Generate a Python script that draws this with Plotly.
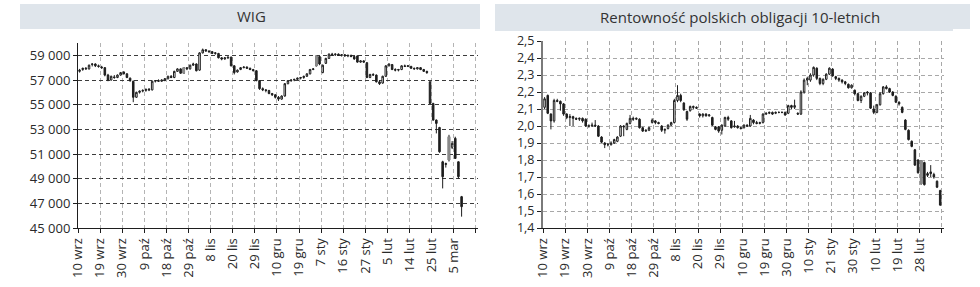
import plotly.graph_objects as go

# ---------------- DATA ----------------
wig_labels = ["10 wrz", "19 wrz", "30 wrz", "9 paź", "18 paź", "29 paź", "8 lis", "20 lis",
              "29 lis", "10 gru", "19 gru", "7 sty", "16 sty", "27 sty", "5 lut", "14 lut",
              "25 lut", "5 mar", ""]
bond_labels = ["10 wrz", "19 wrz", "30 wrz", "9 paź", "18 paź", "29 paź", "8 lis", "20 lis",
               "29 lis", "10 gru", "19 gru", "30 gru", "10 sty", "21 sty", "30 sty", "10 lut",
               "19 lut", "28 lut", ""]
label_step = 7  # trading days between labels

wig_open = [57700, 57850, 57950, 57900, 58250, 58300, 58150, 58050, 58000, 57400,
            57000, 57250, 57200, 57400, 57650, 57500, 57150, 56900, 55600, 56000,
            56100, 56150, 56250, 56200, 56900, 56950, 56900, 57000, 57100, 57300,
            57200, 57700, 57900, 57550, 58000, 57900, 58200, 58300, 57800, 59200,
            59450, 59350, 59300, 59150, 59150, 58800, 58700, 58800, 58850, 58150,
            57650, 57850, 58000, 58050, 57950, 57850, 57750, 56950, 56300, 56200,
            56150, 55900, 55800, 55600, 55450, 55700, 56700, 56950, 57000, 57050,
            57150, 57200, 57300, 57500, 57850, 58150, 58900, 57600, 58350, 58750,
            59100, 59050, 59100, 59000, 59050, 58950, 59000, 58900, 58950, 58450,
            58550, 58400, 57200, 57450, 57400, 56850, 56750, 57300, 58150, 58250,
            57850, 57800, 57850, 58150, 58100, 58100, 57950, 57900, 58000, 57850,
            57700, 56850, 55100, 53750, 53150, 50370, 50150, 50510, 51540, 52270,
            50370, 47540]
wig_high = [57900, 58000, 58050, 58250, 58350, 58350, 58250, 58150, 58050, 57500,
            57350, 57400, 57450, 57650, 57700, 57550, 57200, 56950, 56050, 56150,
            56250, 56300, 56350, 56950, 57000, 57050, 57050, 57150, 57350, 57400,
            57750, 57950, 57950, 58050, 58050, 58250, 58400, 58350, 59250, 59550,
            59500, 59400, 59350, 59250, 59200, 58850, 58850, 58900, 58900, 58200,
            57850, 58050, 58100, 58100, 58000, 57900, 57800, 57000, 56400, 56250,
            56200, 55950, 55850, 55700, 55750, 56750, 57000, 57050, 57100, 57200,
            57250, 57350, 57550, 57900, 57950, 59000, 58950, 58250, 58800, 59150,
            59200, 59150, 59150, 59100, 59100, 59050, 59050, 58950, 59000, 58600,
            58600, 58450, 57500, 57550, 57450, 57000, 57350, 58200, 58350, 58300,
            57950, 57900, 58200, 58250, 58200, 58150, 58000, 58050, 58050, 57900,
            57750, 56900, 55150, 53800, 53200, 50450, 50300, 52550, 52050, 52400,
            50400, 47600]
wig_low = [57600, 57750, 57850, 57850, 58100, 58050, 58000, 57900, 57300, 56900,
           56950, 57100, 57150, 57350, 57450, 57150, 56850, 55200, 55550, 55900,
           56000, 56050, 56100, 56150, 56800, 56850, 56850, 56900, 57050, 57150,
           57150, 57650, 57500, 57500, 57800, 57850, 58150, 57700, 57750, 59150,
           59300, 59200, 59100, 59050, 58750, 58600, 58650, 58700, 58100, 57450,
           57600, 57800, 57950, 57900, 57800, 57700, 56900, 56200, 56100, 56000,
           55850, 55700, 55500, 55300, 55400, 55650, 56650, 56850, 56900, 57000,
           57050, 57100, 57250, 57450, 57800, 58100, 58200, 57550, 58300, 58700,
           58950, 58950, 58950, 58900, 58900, 58850, 58850, 58650, 58400, 58400,
           58400, 57150, 57150, 57350, 56800, 56600, 56700, 57250, 58100, 57800,
           57700, 57700, 57800, 58050, 58050, 57900, 57850, 57850, 57800, 57650,
           57500, 55050, 53700, 52670, 51100, 48210, 49900, 50400, 51400, 50600,
           49000, 45920]
wig_close = [57800, 57950, 57900, 58200, 58300, 58150, 58100, 58000, 57400, 57000,
             57300, 57200, 57400, 57600, 57500, 57200, 56950, 55600, 56000, 56100,
             56150, 56250, 56200, 56900, 56950, 56900, 57000, 57100, 57300, 57200,
             57700, 57900, 57550, 58000, 57900, 58200, 58300, 57750, 59200, 59450,
             59350, 59300, 59150, 59200, 58800, 58700, 58800, 58850, 58150, 57600,
             57800, 58000, 58050, 57950, 57850, 57750, 56950, 56300, 56200, 56150,
             55900, 55800, 55600, 55450, 55700, 56700, 56950, 57000, 57050, 57150,
             57200, 57300, 57500, 57850, 57900, 58950, 58300, 58200, 58750, 59100,
             59050, 59100, 59000, 59050, 58950, 59000, 58900, 58700, 58450, 58550,
             58450, 57200, 57450, 57400, 56850, 56700, 57300, 58150, 58300, 57850,
             57800, 57850, 58150, 58100, 58150, 57950, 57900, 58000, 57850, 57700,
             57600, 55100, 53750, 53480, 51180, 49160, 50220, 52400, 51860, 50640,
             49160, 46730]
wig_gray_days = [33, 75, 117]

bond_open = [2.11, 2.18, 2.07, 2.03, 2.15, 2.145, 2.13, 2.07, 2.05, 2.055,
             2.045, 2.04, 2.045, 2.04, 2.0, 2.0, 2.005, 2.0, 1.935, 1.9,
             1.89, 1.89, 1.9, 1.91, 1.94, 2.0, 1.98, 2.015, 2.045, 2.04,
             2.04, 1.99, 1.97, 1.975, 2.02, 2.03, 2.02, 2.0, 1.975, 1.985,
             2.005, 2.02, 2.15, 2.18, 2.135, 2.085, 2.09, 2.115, 2.11, 2.07,
             2.06, 2.07, 2.06, 2.05, 1.995, 1.995, 1.975, 2.0, 2.05, 2.03,
             1.995, 2.0, 1.99, 1.99, 2.005, 2.0, 2.035, 2.02, 2.015, 2.02,
             2.07, 2.075, 2.08, 2.075, 2.08, 2.08, 2.08, 2.075, 2.12, 2.11,
             2.075, 2.07, 2.2, 2.27, 2.27, 2.30, 2.34, 2.28, 2.25, 2.275,
             2.305, 2.335, 2.29, 2.28, 2.27, 2.26, 2.245, 2.225, 2.21, 2.19,
             2.15, 2.175, 2.2, 2.195, 2.10, 2.08, 2.125, 2.19, 2.23, 2.22,
             2.2, 2.175, 2.14, 2.11, 2.035, 1.975, 1.91, 1.86, 1.80, 1.795,
             1.785, 1.72, 1.73, 1.715, 1.675, 1.62]
bond_high = [2.17, 2.185, 2.075, 2.16, 2.16, 2.15, 2.135, 2.075, 2.07, 2.06,
             2.05, 2.05, 2.05, 2.045, 2.01, 2.02, 2.035, 2.005, 1.94, 1.905,
             1.9, 1.91, 1.925, 1.94, 2.005, 2.005, 2.02, 2.065, 2.055, 2.05,
             2.045, 1.995, 1.98, 1.995, 2.045, 2.035, 2.025, 2.005, 1.985, 2.01,
             2.025, 2.16, 2.24, 2.19, 2.14, 2.09, 2.12, 2.12, 2.115, 2.075,
             2.075, 2.075, 2.07, 2.055, 2.0, 2.0, 2.01, 2.055, 2.06, 2.035,
             2.03, 2.005, 1.995, 2.01, 2.01, 2.065, 2.04, 2.03, 2.025, 2.075,
             2.08, 2.085, 2.085, 2.085, 2.085, 2.085, 2.085, 2.125, 2.125, 2.155,
             2.08, 2.21, 2.28, 2.29, 2.31, 2.35, 2.345, 2.285, 2.28, 2.31,
             2.345, 2.34, 2.295, 2.285, 2.275, 2.265, 2.25, 2.245, 2.215, 2.195,
             2.18, 2.2, 2.205, 2.2, 2.12, 2.13, 2.2, 2.235, 2.24, 2.225,
             2.205, 2.18, 2.145, 2.115, 2.04, 1.98, 1.915, 1.865, 1.805, 1.80,
             1.79, 1.73, 1.77, 1.725, 1.68, 1.625]
bond_low = [2.10, 2.07, 1.98, 2.02, 2.14, 2.09, 2.06, 2.04, 2.0, 2.0,
            2.035, 2.03, 2.02, 1.995, 1.99, 1.995, 1.995, 1.935, 1.9, 1.87,
            1.88, 1.885, 1.895, 1.905, 1.935, 1.94, 1.975, 2.01, 2.03, 2.035,
            1.985, 1.965, 1.965, 1.97, 2.015, 2.01, 2.01, 1.965, 1.955, 1.98,
            2.0, 2.015, 2.14, 2.14, 2.09, 2.03, 2.085, 2.1, 2.1, 2.05,
            2.05, 2.055, 2.055, 2.0, 1.975, 1.96, 1.95, 1.995, 2.03, 1.985,
            1.99, 1.985, 1.98, 1.985, 1.995, 1.995, 2.01, 2.01, 2.01, 2.015,
            2.065, 2.07, 2.065, 2.07, 2.075, 2.075, 2.06, 2.07, 2.1, 2.1,
            2.065, 2.065, 2.19, 2.24, 2.26, 2.29, 2.27, 2.24, 2.24, 2.27,
            2.30, 2.29, 2.27, 2.26, 2.25, 2.24, 2.22, 2.22, 2.18, 2.145,
            2.135, 2.17, 2.18, 2.1, 2.07, 2.075, 2.12, 2.185, 2.215, 2.195,
            2.175, 2.135, 2.12, 2.075, 1.975, 1.915, 1.875, 1.765, 1.72, 1.655,
            1.65, 1.70, 1.70, 1.69, 1.635, 1.53]
bond_close = [2.16, 2.075, 2.03, 2.15, 2.145, 2.13, 2.07, 2.05, 2.055, 2.045,
              2.04, 2.045, 2.03, 2.0, 2.0, 2.005, 2.0, 1.94, 1.905, 1.89,
              1.89, 1.9, 1.92, 1.935, 2.0, 1.995, 2.015, 2.045, 2.04, 2.045,
              1.99, 1.97, 1.975, 1.99, 2.035, 2.02, 2.015, 1.975, 1.98, 2.005,
              2.02, 2.15, 2.18, 2.15, 2.095, 2.04, 2.115, 2.11, 2.105, 2.06,
              2.07, 2.06, 2.065, 2.005, 1.98, 1.97, 2.005, 2.05, 2.04, 1.99,
              2.0, 1.99, 1.985, 2.005, 2.0, 2.045, 2.02, 2.015, 2.02, 2.07,
              2.075, 2.08, 2.07, 2.08, 2.08, 2.08, 2.065, 2.12, 2.11, 2.12,
              2.07, 2.2, 2.27, 2.28, 2.30, 2.345, 2.28, 2.25, 2.275, 2.305,
              2.34, 2.295, 2.28, 2.27, 2.26, 2.25, 2.225, 2.24, 2.19, 2.15,
              2.175, 2.195, 2.195, 2.105, 2.08, 2.125, 2.19, 2.23, 2.22, 2.2,
              2.18, 2.14, 2.13, 2.08, 1.98, 1.92, 1.88, 1.77, 1.725, 1.66,
              1.655, 1.71, 1.72, 1.70, 1.64, 1.535]
bond_gray_days = [119]

# ---------------- FIGURE ----------------
W, H = 980, 287
FONT = "Open Sans"
DARK = "#1e1e1e"

wig_x = list(range(len(wig_close)))
bond_x = list(range(len(bond_close)))


def candle(x, o, h, l, c, xa, ya, inc_fill="white", dec_fill=DARK, line_col=DARK):
    return go.Candlestick(
        x=x, open=o, high=h, low=l, close=c, xaxis=xa, yaxis=ya,
        increasing=dict(line=dict(color=line_col, width=1), fillcolor=inc_fill),
        decreasing=dict(line=dict(color=line_col, width=1), fillcolor=dec_fill),
        whiskerwidth=0, showlegend=False, hoverinfo="skip")


def subset(idx, *arrs):
    return [[a[i] for i in idx] for a in arrs]


fig = go.Figure()
fig.add_trace(candle(wig_x, wig_open, wig_high, wig_low, wig_close, "x", "y"))
gx, go_, gh, gl, gc = subset(wig_gray_days, wig_x, wig_open, wig_high, wig_low, wig_close)
fig.add_trace(candle(gx, go_, gh, gl, gc, "x", "y", "#8c8c8c", "#8c8c8c", "#8c8c8c"))

fig.add_trace(candle(bond_x, bond_open, bond_high, bond_low, bond_close, "x2", "y2"))
bx, bo, bh, bl, bc = subset(bond_gray_days, bond_x, bond_open, bond_high, bond_low, bond_close)
fig.add_trace(candle(bx, bo, bh, bl, bc, "x2", "y2", "#8c8c8c", "#8c8c8c", "#8c8c8c"))

tick_font = dict(family=FONT, size=13, color="#2a2a2a")
tick_font_small = dict(family=FONT, size=12.5, color="#2a2a2a")


def xaxis_cfg(domain, labels, rng, gridcol):
    return dict(
        domain=domain, range=rng, tickmode="array",
        tickvals=[i * label_step - 0.5 for i in range(len(labels))], ticktext=labels,
        tickangle=-90, tickfont=tick_font, showgrid=True, gridcolor=gridcol, gridwidth=1,
        griddash="4px,3px", showline=True, linecolor=DARK, linewidth=1, ticks="outside",
        ticklen=4, tickcolor=DARK, zeroline=False, rangeslider=dict(visible=False),
        fixedrange=True)


def px_x(p):
    return p / W


def px_y(p):
    return 1 - p / H


fig.update_layout(
    width=W, height=H, autosize=False, margin=dict(l=0, r=0, t=0, b=0, pad=0, autoexpand=False),
    paper_bgcolor="white", plot_bgcolor="white", separators=", ", showlegend=False,
    font=dict(family=FONT, color="#222222"),
    xaxis=xaxis_cfg([px_x(78), px_x(477.7)], wig_labels, [-0.5, 126.1], "#b4b4b4"),
    xaxis2=xaxis_cfg([px_x(543), px_x(944)], bond_labels, [-0.5, 126.2], "#a8a8a8"),
    yaxis=dict(domain=[px_y(228), px_y(43)], range=[45000, 60000], anchor="x",
               tickmode="array", tickvals=list(range(45000, 60000, 2000)),
               tickformat=",.0f", tickfont=tick_font, showgrid=True, gridcolor="#3c3c3c",
               gridwidth=1, griddash="4px,3px", showline=True, linecolor=DARK,
               linewidth=1, ticks="outside", ticklen=4, tickcolor=DARK, zeroline=False,
               fixedrange=True),
    yaxis2=dict(domain=[px_y(228), px_y(41)], range=[1.4, 2.5], anchor="x2",
                tickmode="array", tickvals=[round(1.4 + 0.1 * i, 1) for i in range(12)],
                tickformat=".1f", tickfont=tick_font_small, showgrid=True, gridcolor="#a8a8a8",
                gridwidth=1, griddash="4px,3px", showline=True, linecolor="#7a7a7a",
                linewidth=2, ticks="outside", ticklen=4, tickcolor=DARK, zeroline=False,
                fixedrange=True),
    shapes=[
        dict(type="rect", xref="paper", yref="paper", x0=px_x(20), x1=px_x(480),
             y0=px_y(29), y1=px_y(4), fillcolor="#dfe5eb", line=dict(width=0), layer="below"),
        dict(type="rect", xref="paper", yref="paper", x0=px_x(495), x1=px_x(953),
             y0=px_y(31), y1=px_y(4), fillcolor="#dfe5eb", line=dict(width=0), layer="below"),
        dict(type="rect", xref="paper", yref="paper", x0=px_x(953), x1=px_x(970),
             y0=px_y(29), y1=px_y(4), fillcolor="#dfe5eb", line=dict(width=0), layer="below"),
    ],
    annotations=[
        dict(text="WIG", xref="paper", yref="paper", x=px_x(252), y=px_y(16.5),
             xanchor="center", yanchor="middle", showarrow=False,
             font=dict(family=FONT, size=15, color="#333333")),
        dict(text="Rentowność polskich obligacji 10-letnich", xref="paper", yref="paper",
             x=px_x(740), y=px_y(17), xanchor="center", yanchor="middle", showarrow=False,
             font=dict(family=FONT, size=15, color="#333333")),
    ],
)

fig.write_html(
    "out.html",
    post_script="document.body.style.margin='0';document.body.style.padding='0';"
                "document.documentElement.style.overflow='hidden';",
)
